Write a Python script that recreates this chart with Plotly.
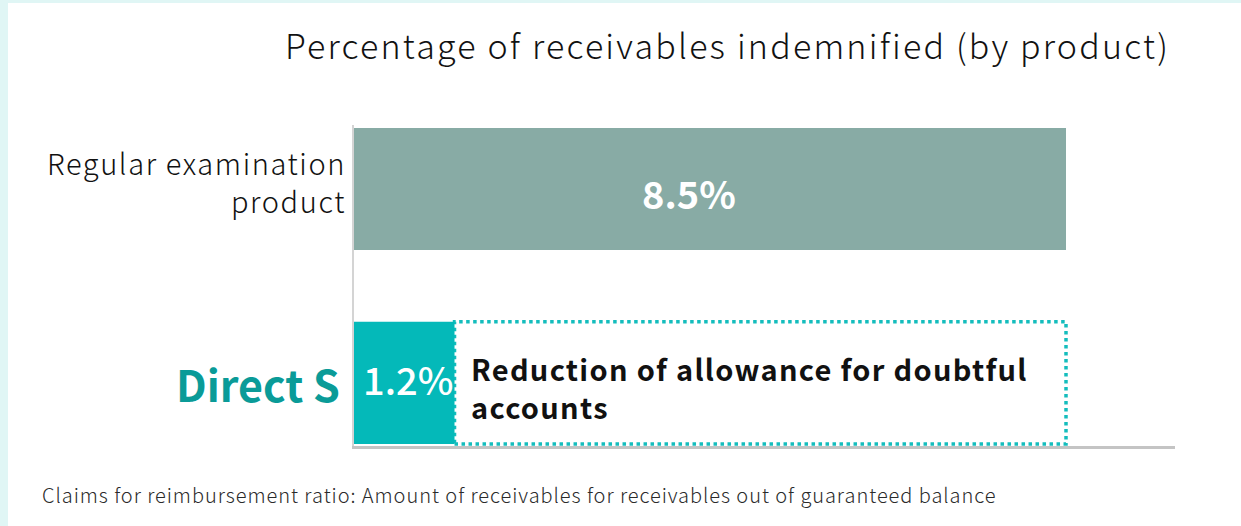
import plotly.graph_objects as go

categories = ["Direct S", "Regular examination product"]
values = [1.2, 8.5]
bar_labels = ["1.2%", "8.5%"]
bar_colors = ["#04b9b9", "#88aba5"]
title_text = "Percentage of receivables indemnified (by product)"
note_text = "Reduction of allowance for doubtful<br>accounts"
footnote = "Claims for reimbursement ratio: Amount of receivables for receivables out of guaranteed balance"

FONT = "Noto Sans CJK JP"
W, H = 1241, 526
ML, MR, MT, MB = 354, 66, 125, 80
BW = 0.63


def spaced(txt, ls):
    parts = txt.split("<br>")
    return "<br>".join(f"<span style='letter-spacing:{ls}px'>{p}</span>" for p in parts)


fig = go.Figure()
for i in range(2):
    fig.add_trace(go.Bar(
        y=[i], x=[values[i]], orientation="h", width=BW,
        marker=dict(color=bar_colors[i], line=dict(width=0)),
        hoverinfo="skip", showlegend=False,
    ))

# bar value labels
fig.add_annotation(x=values[1] / 2, y=1, xref="x", yref="y", text=bar_labels[1],
                   showarrow=False, xanchor="center", yanchor="middle", xshift=-21, yshift=-3,
                   font=dict(family=FONT, size=38, color="white", weight="bold"))
fig.add_annotation(x=values[0] / 2, y=0, xref="x", yref="y", text=bar_labels[0],
                   showarrow=False, xanchor="center", yanchor="middle", xshift=4, yshift=4,
                   font=dict(family=FONT, size=38, color="white", weight=500))

# dotted box: from Direct S value up to Regular value
fig.add_shape(type="rect", xref="x", yref="y",
              x0=values[0], x1=values[1], y0=0 - BW / 2, y1=0 + BW / 2,
              line=dict(color="#14bdbd", width=3.5, dash="dot"),
              fillcolor="white", layer="below")

fig.add_annotation(x=values[0], y=0, xref="x", yref="y", text=spaced(note_text, 1.3),
                   showarrow=False, xanchor="left", yanchor="middle", align="left",
                   xshift=14, yshift=-4,
                   font=dict(family=FONT, size=29, color="#111111", weight="bold"))

# category labels
fig.add_annotation(x=0, y=1, xref="paper", yref="y",
                   text=spaced(categories[1].replace("examination ", "examination<br>"), 1.6),
                   showarrow=False, xanchor="right", yanchor="middle", align="right",
                   xshift=-6, yshift=8,
                   font=dict(family=FONT, size=29, color="#111111", weight=300))
fig.add_annotation(x=0, y=0, xref="paper", yref="y", text=categories[0],
                   showarrow=False, xanchor="right", yanchor="middle", align="right", xshift=-12,
                   font=dict(family=FONT, size=43, color="#0a9b98", weight="bold"))

# title and footnote
pw = W - ML - MR
ph = H - MT - MB


def px(x):
    return (x - ML) / pw


def py(y):
    return (H - MB - y) / ph


fig.add_annotation(x=px(727), y=py(45), xref="paper", yref="paper", text=spaced(title_text, 2.2),
                   showarrow=False, xanchor="center", yanchor="middle",
                   font=dict(family=FONT, size=34, color="#111111", weight=300))
fig.add_annotation(x=px(40), y=py(495), xref="paper", yref="paper", text=spaced(footnote, 0.95),
                   showarrow=False, xanchor="left", yanchor="middle",
                   font=dict(family=FONT, size=20, color="#2a2a2a", weight=300))

# background stripes
fig.add_shape(type="rect", xref="paper", yref="paper", x0=px(-2), x1=px(8), y0=py(H + 2), y1=py(-2),
              fillcolor="#e0f6f5", line=dict(width=0), layer="below")
fig.add_shape(type="rect", xref="paper", yref="paper", x0=px(-2), x1=px(W + 2), y0=py(3), y1=py(-2),
              fillcolor="#e0f6f5", line=dict(width=0), layer="below")

fig.update_layout(
    width=W, height=H, margin=dict(l=ML, r=MR, t=MT, b=MB),
    paper_bgcolor="white", plot_bgcolor="white", barmode="overlay",
    xaxis=dict(range=[0, (W - MR - ML) / ((1066 - ML) / values[1])], showgrid=False, zeroline=False,
               showticklabels=False, showline=True, linecolor="#c4c4c4", linewidth=3, ticks=""),
    yaxis=dict(range=[-0.325, 1.33], showgrid=False, zeroline=False, showticklabels=False,
               showline=True, linecolor="#d4d4d4", linewidth=2, ticks=""),
)
fig.write_html("out.html")
